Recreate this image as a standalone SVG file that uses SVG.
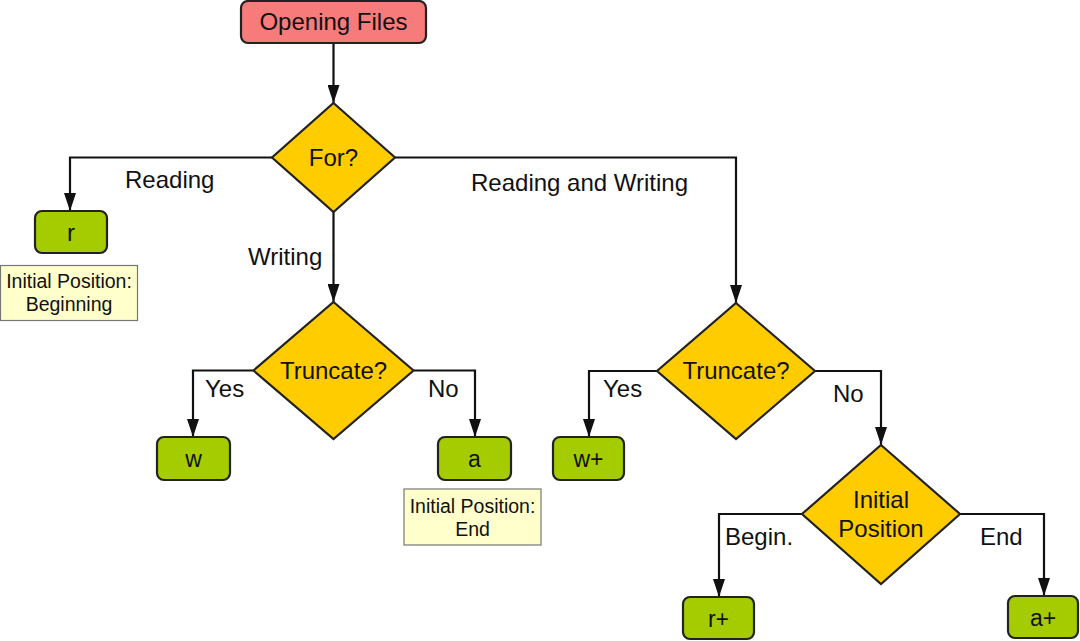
<svg xmlns="http://www.w3.org/2000/svg" width="1080" height="641" viewBox="0 0 1080 641">
<style>
  .t { font-family: "Liberation Sans", Arial, sans-serif; fill: #111; }
  .lbl { font-size: 24px; }
  .big { font-size: 24px; text-anchor: middle; }
  .box { font-size: 23px; text-anchor: middle; }
  .note { font-size: 19.5px; text-anchor: middle; }
  .start { fill: #f77b7b; stroke: #222; stroke-width: 2.2; }
  .dec { fill: #ffcc00; stroke: #222; stroke-width: 2.2; stroke-linejoin: miter; }
  .mode { fill: #a5cc00; stroke: #222; stroke-width: 2.2; }
  .nb { fill: #ffffcc; stroke: #777; stroke-width: 1.2; }
  .edge { fill: none; stroke: #111; stroke-width: 2.2; marker-end: url(#arr); }
</style>
<defs>
  <marker id="arr" viewBox="0 0 18 12" markerWidth="18" markerHeight="12" refX="18" refY="6" orient="auto" markerUnits="userSpaceOnUse">
    <path d="M0,0 L18,6 L0,12 z" fill="#111"/>
  </marker>
</defs>
<rect width="1080" height="641" fill="#ffffff"/>

<g id="connectors">
  <path class="edge" d="M333.5,43 V103"/>
  <path class="edge" d="M272,157.5 H70 V211"/>
  <path class="edge" d="M333.5,212 V302"/>
  <path class="edge" d="M395,157.5 H736 V303"/>
  <path class="edge" d="M253.5,370.5 H193 V437"/>
  <path class="edge" d="M413.5,370.5 H475 V437"/>
  <path class="edge" d="M657,371 H589 V437"/>
  <path class="edge" d="M815,371 H881 V445"/>
  <path class="edge" d="M802,514 H719 V597"/>
  <path class="edge" d="M960,514 H1044 V596"/>
  <text class="t lbl" x="125" y="188">Reading</text>
  <text class="t lbl" x="248" y="265">Writing</text>
  <text class="t lbl" x="471" y="191">Reading and Writing</text>
  <text class="t lbl" x="205" y="397">Yes</text>
  <text class="t lbl" x="428" y="397">No</text>
  <text class="t lbl" x="603" y="397">Yes</text>
  <text class="t lbl" x="833" y="402">No</text>
  <text class="t lbl" x="725" y="545">Begin.</text>
  <text class="t lbl" x="980" y="545">End</text>
</g>

<g id="opening">
  <rect class="start" x="241" y="1" width="185" height="42" rx="7"/>
  <text class="t big" x="333.5" y="30">Opening Files</text>
</g>
<g id="for">
  <polygon class="dec" points="333.5,103 395,157.5 333.5,212 272,157.5"/>
  <text class="t big" x="333.5" y="166">For?</text>
</g>
<g id="r">
  <rect class="mode" x="35" y="211" width="72" height="42" rx="7"/>
  <text class="t box" x="71" y="241" style="font-size:24px">r</text>
</g>
<g id="note-begin">
  <rect class="nb" x="0.5" y="265.5" width="137" height="55"/>
  <text class="t note" x="69" y="288">Initial Position:</text>
  <text class="t note" x="69" y="311">Beginning</text>
</g>
<g id="truncate1">
  <polygon class="dec" points="333.5,302 413.5,370.5 333.5,439 253.5,370.5"/>
  <text class="t big" x="333.5" y="379">Truncate?</text>
</g>
<g id="w">
  <rect class="mode" x="157" y="437" width="73" height="43" rx="7"/>
  <text class="t box" x="193.5" y="467">w</text>
</g>
<g id="a">
  <rect class="mode" x="438" y="437" width="73" height="43" rx="7"/>
  <text class="t box" x="474.5" y="467">a</text>
</g>
<g id="note-end">
  <rect class="nb" x="404" y="489" width="137" height="56"/>
  <text class="t note" x="472.5" y="513">Initial Position:</text>
  <text class="t note" x="472.5" y="536">End</text>
</g>
<g id="truncate2">
  <polygon class="dec" points="736,303 815,371 736,439 657,371"/>
  <text class="t big" x="736" y="379">Truncate?</text>
</g>
<g id="wplus">
  <rect class="mode" x="553" y="437" width="71" height="43" rx="7"/>
  <text class="t box" x="588.5" y="467">w+</text>
</g>
<g id="initpos">
  <polygon class="dec" points="881,445 960,514 881,584 802,514"/>
  <text class="t big" x="881" y="508">Initial</text>
  <text class="t big" x="881" y="537">Position</text>
</g>
<g id="rplus">
  <rect class="mode" x="683" y="597" width="71" height="42" rx="7"/>
  <text class="t box" x="718.5" y="627">r+</text>
</g>
<g id="aplus">
  <rect class="mode" x="1008" y="596" width="70" height="42" rx="7"/>
  <text class="t box" x="1043" y="626">a+</text>
</g>
</svg>
